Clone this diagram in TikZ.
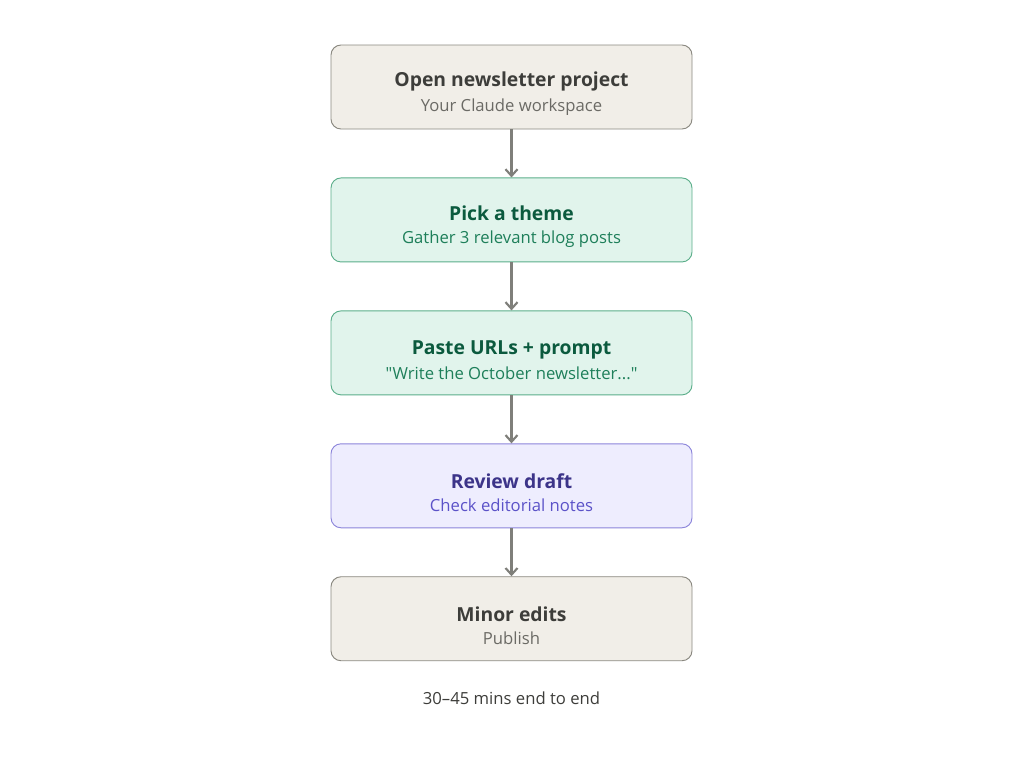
\documentclass[tikz,border=0pt]{standalone}
\usepackage{fontspec}
\setmainfont{Open Sans}[Ligatures=TeXOff]
\usetikzlibrary{arrows.meta,positioning}
\definecolor{gryfill}{HTML}{F1EEE8}
\definecolor{gryline}{HTML}{8A8880}
\definecolor{grytxt}{HTML}{3D3D3A}
\definecolor{grysub}{HTML}{6B6A65}
\definecolor{grnfill}{HTML}{E1F4EC}
\definecolor{grnline}{HTML}{5BAE8A}
\definecolor{grntxt}{HTML}{0B5A3E}
\definecolor{grnsub}{HTML}{1E7F5A}
\definecolor{prpfill}{HTML}{EEEDFE}
\definecolor{prpline}{HTML}{8B84DA}
\definecolor{prptxt}{HTML}{3C3489}
\definecolor{prpsub}{HTML}{5B52C8}
\definecolor{arrgry}{HTML}{7F7F7A}
\newcommand{\ttl}[1]{{\fontsize{14.5}{18}\selectfont\bfseries\rule{0pt}{21.5pt}#1}}
\newcommand{\sbt}[1]{\fontsize{12.5}{15}\selectfont #1}
\tikzset{
  blk/.style={draw,rectangle,rounded corners=7.5pt,minimum width=270.75pt,minimum height=63pt,line width=0.7pt,align=center},
  gryblk/.style={blk,fill=gryfill,draw=gryline,text=grytxt},
  grnblk/.style={blk,fill=grnfill,draw=grnline,text=grntxt},
  prpblk/.style={blk,fill=prpfill,draw=prpline,text=prptxt},
  arr/.style={-{Straight Barb[length=5pt,width=9pt]},line width=1.6pt,arrgry},
  lbl/.style={font=\fontsize{12.5}{15}\selectfont,text=grytxt}
}
\begin{document}
\begin{tikzpicture}[x=0.75pt,y=-0.75pt,node distance=36pt]
  \useasboundingbox (0,0) rectangle (1024,783);
  % workflow steps
  \node[gryblk] (open) at (511.5,87) {\ttl{Open newsletter project}\\[5pt]\color{grysub}\sbt{Your Claude workspace}};
  \node[grnblk, below=of open] (theme) {\ttl{Pick a theme}\\[5pt]\color{grnsub}\sbt{Gather 3 relevant blog posts}};
  \node[grnblk, below=of theme] (paste) {\ttl{Paste URLs + prompt}\\[5pt]\color{grnsub}\sbt{"Write the October newsletter..."}};
  \node[prpblk, below=of paste] (review) {\ttl{Review draft}\\[5pt]\color{prpsub}\sbt{Check editorial notes}};
  \node[gryblk, below=of review] (edits) {\ttl{Minor edits}\\[5pt]\color{grysub}\sbt{Publish}};

  \draw[arr] (open)--(theme);
  \draw[arr] (theme)--(paste);
  \draw[arr] (paste)--(review);
  \draw[arr] (review)--(edits);

  \node[lbl] (time) at (511.5,698) {30–45 mins end to end};
\end{tikzpicture}
\end{document}
